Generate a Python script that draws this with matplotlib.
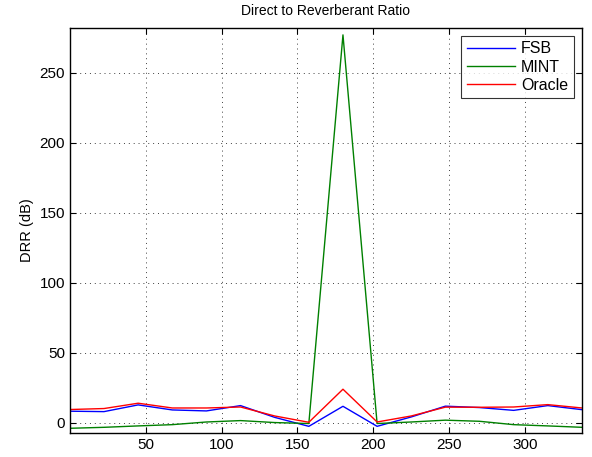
import matplotlib
matplotlib.use("Agg")
import matplotlib.pyplot as plt

plt.rcParams['font.family'] = ['Liberation Sans', 'DejaVu Sans']

angles = [0, 22.5, 45, 67.5, 90, 112.5, 135, 157.5, 180, 202.5, 225, 247.5, 270, 292.5, 315, 337.5]
fsb = [8.4, 8.1, 12.9, 9.3, 8.6, 12.4, 4.0, -2.4, 11.9, -2.4, 4.3, 12.0, 11.0, 9.0, 12.4, 9.5]
mint = [-3.8, -3.1, -2.1, -1.2, 0.7, 1.7, 0.3, -0.4, 277.0, -0.4, 0.7, 2.0, 1.2, -1.2, -2.1, -3.1]
oracle = [9.6, 10.3, 14.1, 10.7, 10.7, 11.4, 5.0, 0.5, 24.1, 0.7, 5.0, 11.3, 11.2, 11.4, 13.1, 10.7]
series_names = ["FSB", "MINT", "Oracle"]
xticks = [50, 100, 150, 200, 250, 300]
yticks = [0, 50, 100, 150, 200, 250]

fig = plt.figure(figsize=(5.92, 4.57), dpi=100)
ax = fig.add_axes([0.118, 0.053, 0.865, 0.886])

ax.plot(angles, fsb, color=(0, 0, 1), lw=1.0, label=series_names[0])
ax.plot(angles, mint, color=(0, 0.5, 0), lw=1.0, label=series_names[1])
ax.plot(angles, oracle, color=(1, 0, 0), lw=1.0, label=series_names[2])

ax.set_xlim(0, 337.5)
ax.set_ylim(-7, 282)
ax.set_xticks(xticks)
ax.set_yticks(yticks)
ax.tick_params(direction='in', top=True, right=True, labelsize=11, length=4, width=0.8)
ax.grid(True, linestyle=(0, (1, 4)), color='0.25', linewidth=0.7)
for s in ax.spines.values():
    s.set_linewidth(1.0)
    s.set_color('black')

ax.set_title("Direct to Reverberant Ratio", fontsize=10, pad=9)
ax.set_ylabel("DRR (dB)", fontsize=10.5)

leg = ax.legend(loc='upper right', fontsize=11.5, frameon=True, fancybox=False,
                edgecolor='black', handlelength=3.0, borderpad=0.35,
                labelspacing=0.2, handletextpad=0.4, borderaxespad=0.5)
leg.get_frame().set_linewidth(0.8)

fig.savefig("out.png", dpi=100)
